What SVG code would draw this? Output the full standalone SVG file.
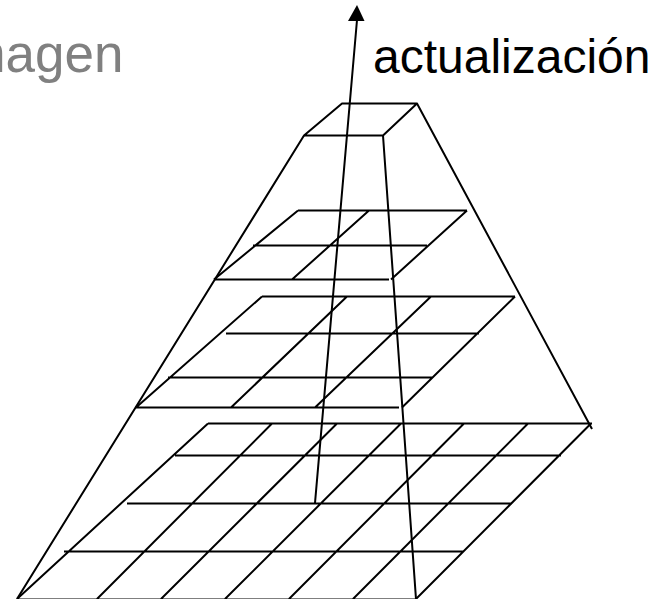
<svg xmlns="http://www.w3.org/2000/svg" width="659" height="599" viewBox="0 0 659 599">
<style>
.l{stroke:#000;stroke-width:2;fill:none;stroke-linecap:butt;stroke-linejoin:round}
text{font-family:"Liberation Sans",Arial,sans-serif}
</style>
<rect width="659" height="599" fill="#fff"/>
<g id="label-imagen"><text x="123.500" y="72" text-anchor="end" fill="#808080" font-size="53">magen</text></g>
<g id="label-actualizacion"><text x="373" y="73" fill="#000" font-size="48">actualización</text></g>
<g id="level-1" class="l">
<path d="M342 103.500H417L383 135.500H304Z"/>
</g>
<g id="level-2" class="l">
<path d="M298 210.500H467M253 245.500H427M214 279.500H389M298 210.500L214 279.500M369 210.500L292 279.500M467 210.500L391 279.500"/>
</g>
<g id="level-3" class="l">
<path d="M262 296.500H515M226 333.500H479M168 377.500H432M136 407.500H399M262 296.500L136 407.500M347 296.500L231 407.500M431 296.500L315 407.500M515 296.500L402 407.500"/>
</g>
<g id="level-4" class="l">
<path d="M208 423.500H592M175 455.500H561M127 503.500H512M64 551.500H464M17 599.500H416M208 423.500L17 599M272 423.500L97 599M337 423.500L161 599M401 423.500L225 599M464 423.500L289 599M528 423.500L353 599M591 423.500L416 599"/>
</g>
<g id="connectors" class="l">
<path d="M304 135.500L17 599M417 103.500L592 429M383 135.500L416 599M315 503L357 20"/>
<polygon points="357,5 348,21 364.500,21" fill="#000" stroke="none"/>
</g>
</svg>
